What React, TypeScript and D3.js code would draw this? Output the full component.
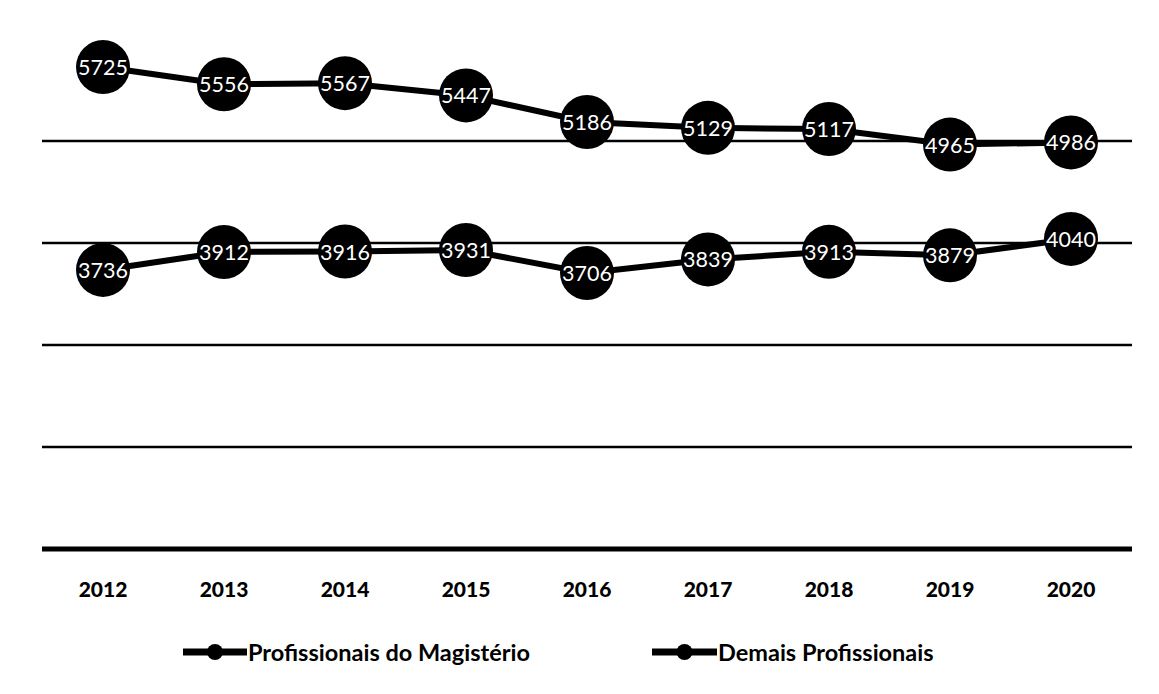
import React from "react";
import * as d3 from "d3";

const years = ["2012", "2013", "2014", "2015", "2016", "2017", "2018", "2019", "2020"];
const magisterio = [5725, 5556, 5567, 5447, 5186, 5129, 5117, 4965, 4986];
const demais = [3736, 3912, 3916, 3931, 3706, 3839, 3913, 3879, 4040];
const gridTicks = [2000, 3000, 4000, 5000];
const seriesNames = ["Profissionais do Magistério", "Demais Profissionais"];

const W = 1159;
const H = 694;
const FONT = "Lato, 'Open Sans', sans-serif";

export default function App() {
  const x = d3.scalePoint<string>().domain(years).range([103, 1071]);
  const y = d3.scaleLinear().domain([1000, 6000]).range([549, 39]);
  const plotLeft = 42;
  const plotRight = 1132;
  const line = d3
    .line<number>()
    .x((_, i) => x(years[i]) as number)
    .y((d) => y(d));
  const series = [magisterio, demais];

  return (
    <svg
      width={W}
      height={H}
      style={{ position: "absolute", left: 0, top: 0, background: "#fff" }}
    >
      <rect x={0} y={0} width={W} height={H} fill="#fff" />
      {gridTicks.map((t) => (
        <line key={t} x1={plotLeft} x2={plotRight} y1={y(t)} y2={y(t)} stroke="#000" strokeWidth={2.5} />
      ))}
      <line x1={plotLeft} x2={plotRight} y1={y(1000)} y2={y(1000)} stroke="#000" strokeWidth={5} />
      {years.map((yr) => (
        <text
          key={yr}
          x={x(yr)}
          y={588}
          textAnchor="middle"
          dominantBaseline="central"
          fontFamily={FONT}
          fontWeight="900"
          fontSize={21}
          fill="#000"
        >
          {yr}
        </text>
      ))}
      {series.map((s, si) => (
        <g key={si}>
          <path d={line(s) || ""} fill="none" stroke="#000" strokeWidth={6} />
          {s.map((v, i) => (
            <g key={i}>
              <circle cx={x(years[i])} cy={y(v)} r={27} fill="#000" />
              <text
                x={x(years[i])}
                y={y(v)}
                textAnchor="middle"
                dominantBaseline="central"
                fontFamily={FONT}
                fontSize={21.5}
                fill="#fff"
              >
                {v}
              </text>
            </g>
          ))}
        </g>
      ))}
      {/* legend */}
      {[
        { x0: 183, x1: 247 },
        { x0: 652, x1: 717 },
      ].map((l, i) => (
        <g key={i}>
          <line x1={l.x0} x2={l.x1} y1={652} y2={652} stroke="#000" strokeWidth={7} />
          <circle cx={(l.x0 + l.x1) / 2} cy={652} r={8} fill="#000" />
          <text
            x={l.x1 + 1}
            y={652}
            dominantBaseline="central"
            fontFamily={FONT}
            fontWeight="bold"
            fontSize={23.5}
            fill="#000"
          >
            {seriesNames[i]}
          </text>
        </g>
      ))}
    </svg>
  );
}
